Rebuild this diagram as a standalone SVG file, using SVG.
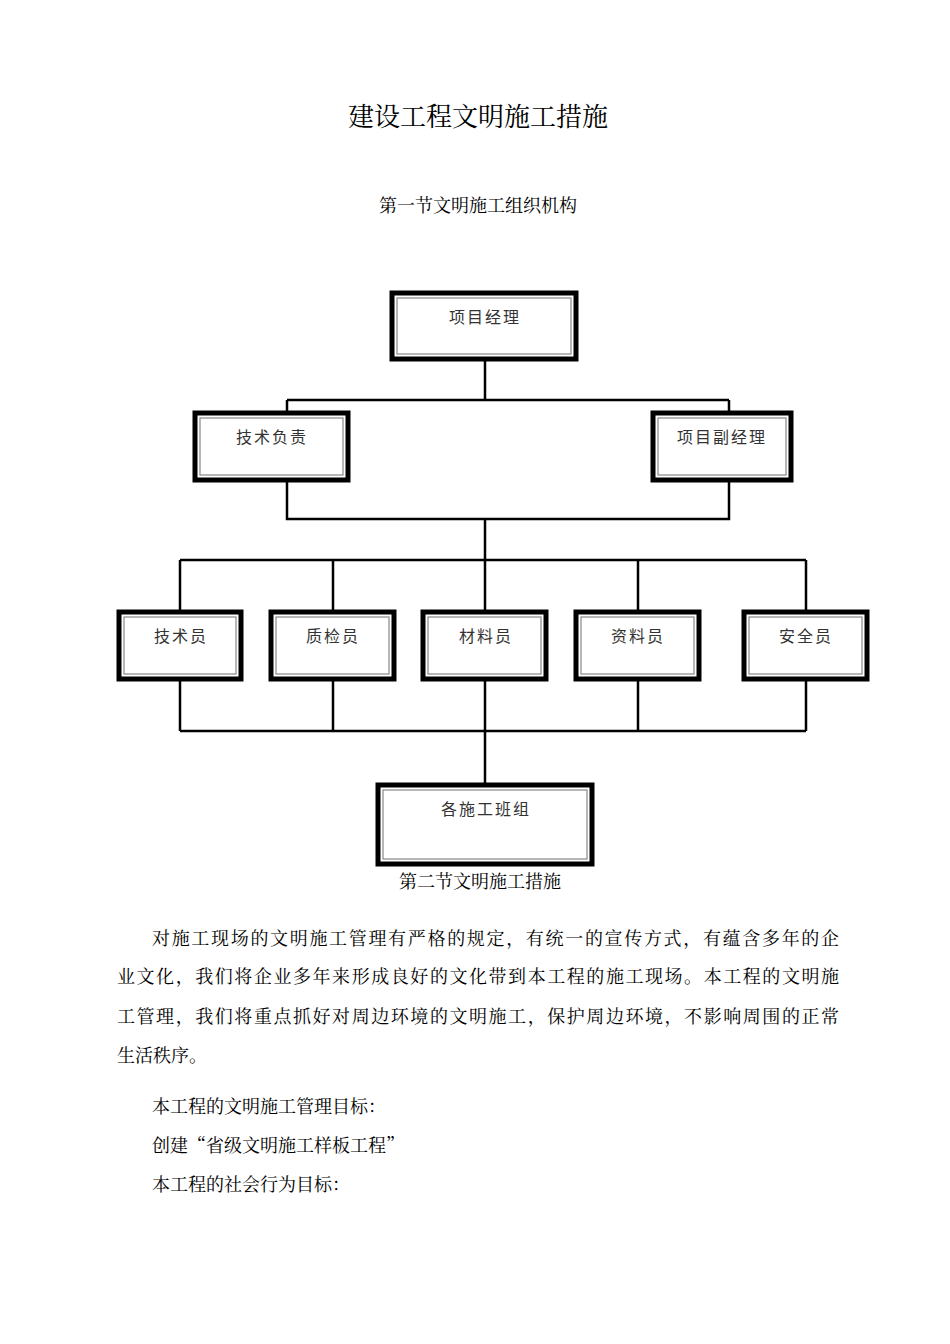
<svg xmlns="http://www.w3.org/2000/svg" width="950" height="1344" viewBox="0 0 950 1344">
<style>
.o{fill:#fff;stroke:#000;stroke-width:5}
.i{fill:none;stroke:#888;stroke-width:1.2}
.j{fill:none;stroke:#000;stroke-width:1}
.n{font-family:"Noto Sans CJK SC",sans-serif;font-size:16px;fill:#333;text-anchor:middle;letter-spacing:2px}
.t{font-family:"Noto Serif CJK SC","Noto Sans CJK SC",serif;fill:#000}
.c{fill:none;stroke:#000;stroke-width:2.5}
</style>
<rect width="950" height="1344" fill="#fff"/>
<text class="t" x="478" y="126" font-size="26" text-anchor="middle">建设工程文明施工措施</text>
<text class="t" x="478" y="212" font-size="18" text-anchor="middle">第一节文明施工组织机构</text>
<g id="connectors">
<path class="c" d="M485 361V400M287 400H729M287 400V426M729 400V426M287 482V519H729V482M485 519V560M180 560H806M180 560V610M333 560V610M485 560V610M638 560V610M806 560V610M180 681V731M333 681V731M485 681V731M638 681V731M806 681V731M180 731H806M485 731V783"/>
</g>
<g id="n1"><rect class="o" x="392" y="293" width="184" height="66"/><rect class="i" x="397" y="298" width="174" height="56"/><text class="n" x="485" y="323">项目经理</text></g>
<g id="n2"><rect class="o" x="195" y="413" width="153" height="67"/><rect class="i" x="200" y="418" width="143" height="57"/><text class="n" x="272" y="443">技术负责</text></g>
<g id="n3"><rect class="o" x="653" y="413" width="138" height="67"/><rect class="i" x="658" y="418" width="128" height="57"/><text class="n" x="722" y="443">项目副经理</text></g>
<g id="n4"><rect class="o" x="119" y="612" width="122" height="67"/><rect class="i" x="124" y="617" width="112" height="57"/><text class="n" x="181" y="642">技术员</text></g>
<g id="n5"><rect class="o" x="271" y="612" width="123" height="67"/><rect class="i" x="276" y="617" width="113" height="57"/><text class="n" x="333" y="642">质检员</text></g>
<g id="n6"><rect class="o" x="423" y="612" width="123" height="67"/><rect class="i" x="428" y="617" width="113" height="57"/><text class="n" x="486" y="642">材料员</text></g>
<g id="n7"><rect class="o" x="576" y="612" width="123" height="67"/><rect class="i" x="581" y="617" width="113" height="57"/><text class="n" x="638" y="642">资料员</text></g>
<g id="n8"><rect class="o" x="744" y="612" width="123" height="67"/><rect class="i" x="749" y="617" width="113" height="57"/><text class="n" x="806" y="642">安全员</text></g>
<g id="n9"><rect class="o" x="378" y="785" width="214" height="79"/><rect class="i" x="383" y="790" width="204" height="69"/><text class="n" x="486" y="815">各施工班组</text></g>
<g class="t" font-size="18">
<text x="480" y="888" text-anchor="middle">第二节文明施工措施</text>
<text x="152" y="945" textLength="687" lengthAdjust="spacing">对施工现场的文明施工管理有严格的规定，有统一的宣传方式，有蕴含多年的企</text>
<text x="117" y="983" textLength="722" lengthAdjust="spacing">业文化，我们将企业多年来形成良好的文化带到本工程的施工现场。本工程的文明施</text>
<text x="117" y="1023" textLength="722" lengthAdjust="spacing">工管理，我们将重点抓好对周边环境的文明施工，保护周边环境，不影响周围的正常</text>
<text x="117" y="1062">生活秩序。</text>
<text x="152" y="1113">本工程的文明施工管理目标：</text>
<text x="152" y="1152">创建“省级文明施工样板工程”</text>
<text x="152" y="1191">本工程的社会行为目标：</text>
</g>
</svg>
